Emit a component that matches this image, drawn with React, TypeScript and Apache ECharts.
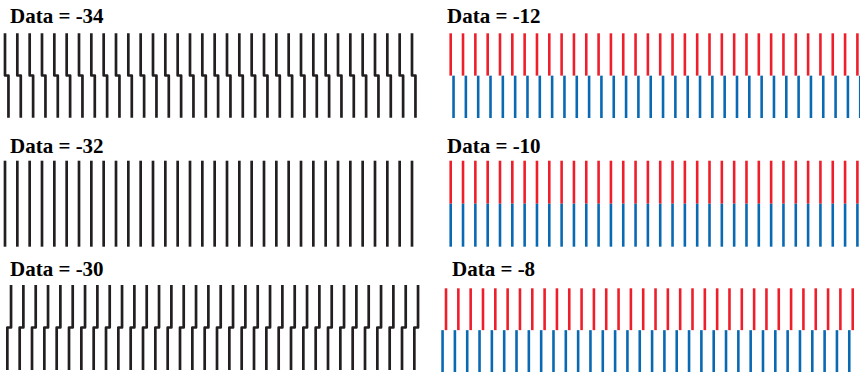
import React, { useEffect, useRef } from "react";
import * as echarts from "echarts";

// Panel labels ("Data = ...")
const dataValues = [-34, -32, -30, -12, -10, -8];
// Pulse numbers along each comb
const pulses = [
  0, 1, 2, 3, 4, 5, 6, 7, 8, 9, 10, 11, 12, 13, 14, 15, 16,
  17, 18, 19, 20, 21, 22, 23, 24, 25, 26, 27, 28, 29, 30, 31, 32, 33,
];
// Phase of the upper and lower row of each panel, in pulse periods
const topPhase = [0, 0, 0.49, 0, 0, -0.38];
const bottomPhase = [0.28, 0, 0.19, 0.23, 0, -0.66];
// Whether the upper and lower strokes are joined into one trace
const joined = [true, true, true, false, false, false];

const BLACK = "#231f20";
const RED = "#ee1f2b";
const BLUE = "#0a69b3";

// layout per panel: [left, top, width, height]
const layout = [
  [5, 33.3, 407, 84.4],
  [5, 160.7, 407, 86],
  [5, 285, 407, 85],
  [450.7, 33.3, 406.7, 84.7],
  [450.7, 160.7, 406.7, 86],
  [450.7, 288.3, 406.7, 84],
];
// title anchor positions
const titlePos = [
  [10, 5],
  [10, 135],
  [10, 258],
  [447, 5],
  [447, 135],
  [452, 258],
];

export default function App() {
  const ref = useRef<HTMLDivElement>(null);
  useEffect(() => {
    if (!ref.current) return;
    const chart = echarts.init(ref.current, undefined, { renderer: "svg" });
    const grids: any[] = [];
    const xAxes: any[] = [];
    const yAxes: any[] = [];
    const series: any[] = [];
    const texts: any[] = [];
    dataValues.forEach((d, k) => {
      const [l, t, w, h] = layout[k];
      grids.push({ left: l, top: t, width: w, height: h, containLabel: false });
      xAxes.push({ type: "value", gridIndex: k, min: 0, max: 33, show: false });
      yAxes.push({ type: "value", gridIndex: k, min: 0, max: 2, show: false });
      texts.push({
        type: "text",
        x: titlePos[k][0],
        y: titlePos[k][1],
        style: {
          text: "Data = " + d,
          font: "bold 21px \"Liberation Serif\", \"Times New Roman\", serif",
          fill: "#000",
          verticalAlign: "top",
        },
      });
      const tp = topPhase[k];
      const bp = bottomPhase[k];
      const isJoined = joined[k];
      series.push({
        type: "custom",
        xAxisIndex: k,
        yAxisIndex: k,
        clip: false,
        data: pulses.map((p) => [p]),
        renderItem: (params: any, api: any) => {
          const i = api.value(0);
          const a = api.coord([i + tp, 2]);
          const b = api.coord([i + tp, 1]);
          const c = api.coord([i + bp, 1]);
          const e = api.coord([i + bp, 0]);
          if (isJoined) {
            return {
              type: "polyline",
              shape: { points: [a, b, c, e] },
              style: { stroke: BLACK, lineWidth: 2.7, fill: "none", lineJoin: "round" },
            };
          }
          return {
            type: "group",
            children: [
              {
                type: "line",
                shape: { x1: a[0], y1: a[1], x2: b[0], y2: b[1] },
                style: { stroke: RED, lineWidth: 2.6 },
              },
              {
                type: "line",
                shape: { x1: c[0], y1: c[1], x2: e[0], y2: e[1] },
                style: { stroke: BLUE, lineWidth: 2.6 },
              },
            ],
          };
        },
      });
    });
    chart.setOption({
      animation: false,
      backgroundColor: "#ffffff",
      graphic: texts,
      grid: grids,
      xAxis: xAxes,
      yAxis: yAxes,
      series,
    });
    return () => chart.dispose();
  }, []);
  return (
    <div
      ref={ref}
      style={{ position: "absolute", left: 0, top: 0, width: 860, height: 372 }}
    />
  );
}
